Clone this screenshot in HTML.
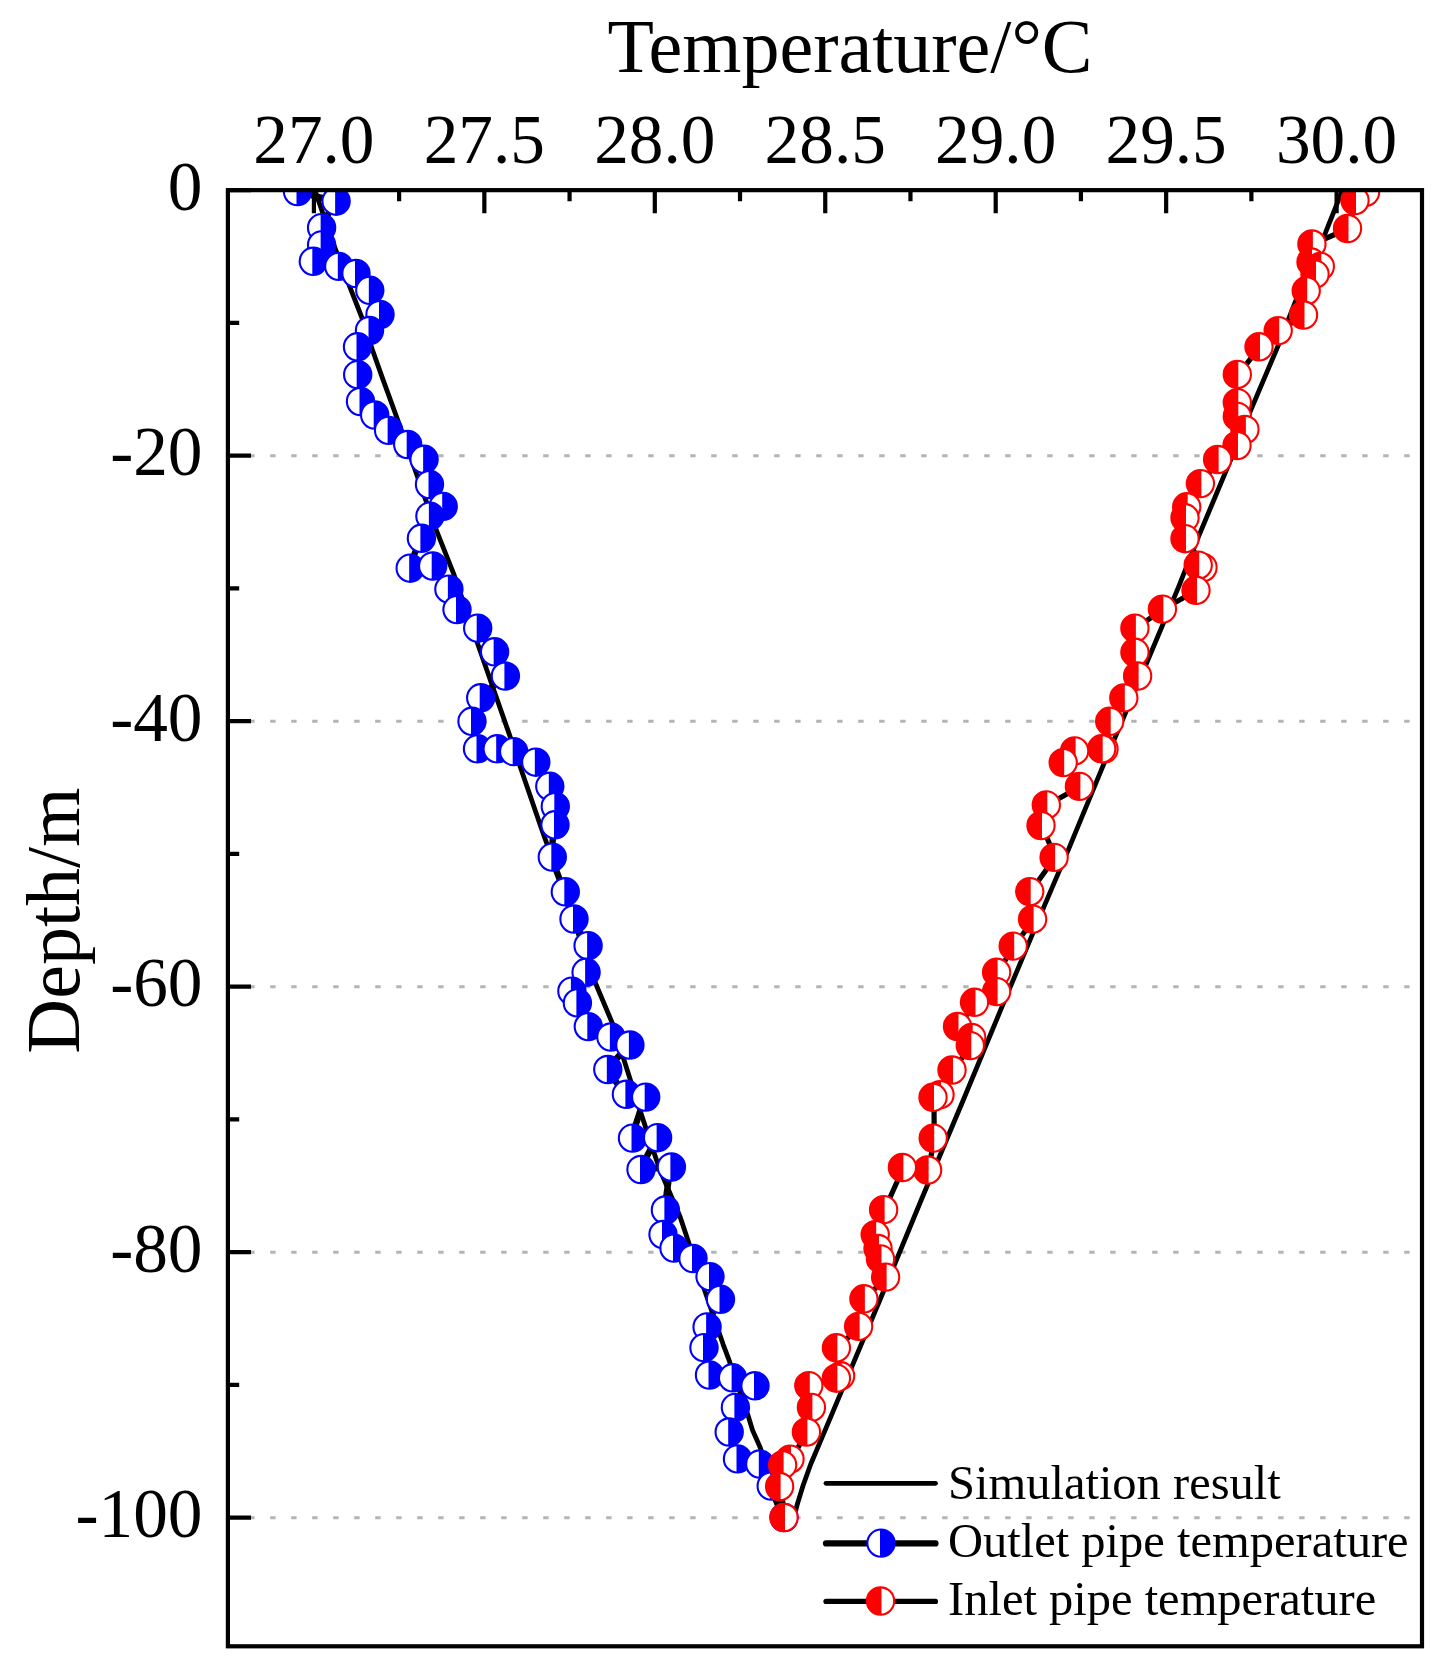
<!DOCTYPE html>
<html><head><meta charset="utf-8"><title>Temperature vs Depth</title>
<style>html,body{margin:0;padding:0;background:#fff;}svg{display:block;}text{font-family:"Liberation Serif",serif;fill:#000;}</style>
</head><body>
<svg width="1452" height="1678" viewBox="0 0 1452 1678">
<rect width="1452" height="1678" fill="#fff"/>
<defs>
<clipPath id="pc"><rect x="227.9" y="190.15" width="1194.1" height="1456.15"/></clipPath>
<g id="mb"><circle r="13.65" fill="#fff"/><path d="M-1,-13.61 A13.65,13.65 0 1 1 -1,13.61 Z" fill="#0000ff"/><circle r="13.65" fill="none" stroke="#0000ff" stroke-width="2.1"/></g>
<g id="mr"><circle r="13.65" fill="#fff"/><path d="M1,-13.61 A13.65,13.65 0 1 0 1,13.61 Z" fill="#ff0000"/><circle r="13.65" fill="none" stroke="#ff0000" stroke-width="2.1"/></g>
</defs>
<line x1="228.2" y1="455.65" x2="1420" y2="455.65" stroke="#b4b4b4" stroke-width="3" stroke-dasharray="5.4 15.6"/>
<line x1="228.2" y1="721.15" x2="1420" y2="721.15" stroke="#b4b4b4" stroke-width="3" stroke-dasharray="5.4 15.6"/>
<line x1="228.2" y1="986.65" x2="1420" y2="986.65" stroke="#b4b4b4" stroke-width="3" stroke-dasharray="5.4 15.6"/>
<line x1="228.2" y1="1252.15" x2="1420" y2="1252.15" stroke="#b4b4b4" stroke-width="3" stroke-dasharray="5.4 15.6"/>
<line x1="228.2" y1="1517.65" x2="1420" y2="1517.65" stroke="#b4b4b4" stroke-width="3" stroke-dasharray="5.4 15.6"/>
<g clip-path="url(#pc)">
<polyline points="315.4,191.8 333.6,244.4 350.8,289.4 362.6,319.5 372.3,349.5 383,379.6 400.2,426.8 417.3,476.1 436.5,530.7 453.6,573.6 479.4,648.8 494.4,691.7 509.4,734.6 520.2,766.8 541.6,829 556.5,870.7 595.1,982.3 612.3,1023.1 640.2,1111.1 659.5,1169 680,1216.5 703.6,1287.3 723.1,1344.3 728.4,1358.3 748.3,1416.2 752.5,1430.1 760.1,1447.3 771.5,1480 780,1503 784.5,1511 795.5,1511 797.5,1503.6 803,1485.8 810.7,1464.3 830,1418.6 879.8,1300.3 921.2,1200 963.3,1100 1001.1,1008.9 1045.3,903.6 1068.5,849.4 1102.5,767.1 1147,662.2 1178.5,587.1 1198.7,536.2 1231,459 1251,409.6 1278.3,345.2 1295.7,301 1325.5,232.7 1342.5,190.15" fill="none" stroke="#000" stroke-width="4.8" stroke-linejoin="round" stroke-linecap="round"/>
<polyline points="296.5,191.5 335.1,201.2 320.6,227.7 320.6,244.9 312.3,261.3 337.8,266.4 355,273.5 368.8,290.3 379,314.5 368.5,330.5 356.5,346.8 356.7,374.7 359.5,401.5 373.7,415 387.6,430.4 406.7,444.5 423.1,459.3 428.5,484.5 442.2,506.4 428.9,516.1 420.4,538.3 409.2,568.2 431.7,566 447.9,589.2 456,609.6 476.7,628.2 493.6,651.8 504.4,676 479.7,697.8 471,721.3 476.5,748.8 496.2,748.8 512.7,751.6 534.8,762.2 548.8,786.3 554.3,806.5 554,824.8 551.3,857.1 564.3,891.8 573,919 587.1,945.7 585.1,972.3 570.9,991.2 576.4,1002.9 587.3,1026.6 609.9,1037 628.9,1045 606.8,1069.5 625.4,1094.3 644.7,1097.1 631.5,1138.1 656.6,1137.7 640,1169.5 670.4,1167 664.4,1210 662,1234.5 673,1248.1 692,1258.5 709,1276.6 719.5,1299.3 706.1,1326.9 703,1347.7 708.5,1375 731.6,1377.8 754,1385.8 734.4,1407.4 728.2,1432 736.5,1458.9 758.8,1464 770.2,1486 783,1517.5" fill="none" stroke="#000" stroke-width="6.4" stroke-linejoin="round"/>
<use href="#mb" x="297.5" y="191.5"/>
<use href="#mb" x="336.1" y="201.2"/>
<use href="#mb" x="321.6" y="227.7"/>
<use href="#mb" x="321.6" y="244.9"/>
<use href="#mb" x="313.3" y="261.3"/>
<use href="#mb" x="338.8" y="266.4"/>
<use href="#mb" x="356" y="273.5"/>
<use href="#mb" x="369.8" y="290.3"/>
<use href="#mb" x="380" y="314.5"/>
<use href="#mb" x="369.5" y="330.5"/>
<use href="#mb" x="357.5" y="346.8"/>
<use href="#mb" x="357.7" y="374.7"/>
<use href="#mb" x="360.5" y="401.5"/>
<use href="#mb" x="374.7" y="415"/>
<use href="#mb" x="388.6" y="430.4"/>
<use href="#mb" x="407.7" y="444.5"/>
<use href="#mb" x="424.1" y="459.3"/>
<use href="#mb" x="429.5" y="484.5"/>
<use href="#mb" x="443.2" y="506.4"/>
<use href="#mb" x="429.9" y="516.1"/>
<use href="#mb" x="421.4" y="538.3"/>
<use href="#mb" x="410.2" y="568.2"/>
<use href="#mb" x="432.7" y="566"/>
<use href="#mb" x="448.9" y="589.2"/>
<use href="#mb" x="457" y="609.6"/>
<use href="#mb" x="477.7" y="628.2"/>
<use href="#mb" x="494.6" y="651.8"/>
<use href="#mb" x="505.4" y="676"/>
<use href="#mb" x="480.7" y="697.8"/>
<use href="#mb" x="472" y="721.3"/>
<use href="#mb" x="477.5" y="748.8"/>
<use href="#mb" x="497.2" y="748.8"/>
<use href="#mb" x="513.7" y="751.6"/>
<use href="#mb" x="535.8" y="762.2"/>
<use href="#mb" x="549.8" y="786.3"/>
<use href="#mb" x="555.3" y="806.5"/>
<use href="#mb" x="555" y="824.8"/>
<use href="#mb" x="552.3" y="857.1"/>
<use href="#mb" x="565.3" y="891.8"/>
<use href="#mb" x="574" y="919"/>
<use href="#mb" x="588.1" y="945.7"/>
<use href="#mb" x="586.1" y="972.3"/>
<use href="#mb" x="571.9" y="991.2"/>
<use href="#mb" x="577.4" y="1002.9"/>
<use href="#mb" x="588.3" y="1026.6"/>
<use href="#mb" x="610.9" y="1037"/>
<use href="#mb" x="629.9" y="1045"/>
<use href="#mb" x="607.8" y="1069.5"/>
<use href="#mb" x="626.4" y="1094.3"/>
<use href="#mb" x="645.7" y="1097.1"/>
<use href="#mb" x="632.5" y="1138.1"/>
<use href="#mb" x="657.6" y="1137.7"/>
<use href="#mb" x="641" y="1169.5"/>
<use href="#mb" x="671.4" y="1167"/>
<use href="#mb" x="665.4" y="1210"/>
<use href="#mb" x="663" y="1234.5"/>
<use href="#mb" x="674" y="1248.1"/>
<use href="#mb" x="693" y="1258.5"/>
<use href="#mb" x="710" y="1276.6"/>
<use href="#mb" x="720.5" y="1299.3"/>
<use href="#mb" x="707.1" y="1326.9"/>
<use href="#mb" x="704" y="1347.7"/>
<use href="#mb" x="709.5" y="1375"/>
<use href="#mb" x="732.6" y="1377.8"/>
<use href="#mb" x="755" y="1385.8"/>
<use href="#mb" x="735.4" y="1407.4"/>
<use href="#mb" x="729.2" y="1432"/>
<use href="#mb" x="737.5" y="1458.9"/>
<use href="#mb" x="759.8" y="1464"/>
<use href="#mb" x="771.2" y="1486"/>
<use href="#mb" x="784" y="1517.5"/>
<polyline points="1366.5,192.3 1356,200.5 1348.5,228.5 1312.9,244 1312,262 1321.3,266.4 1316,274.2 1307.2,290.8 1304.5,315 1279.2,330.6 1260,346.8 1238.3,374.4 1238.3,402.6 1238.3,416.4 1245.9,429.5 1238,445.5 1218.6,459.5 1201.4,483.6 1187.7,506.8 1186,517.8 1186,538.7 1204,567.5 1199.2,565.1 1197,590.3 1163.4,609.1 1135.9,628.2 1135.9,652.3 1138.6,676 1124.8,697.9 1110.7,721.3 1105,749 1102.7,748.8 1075.6,750.9 1064.2,762.6 1080.4,786.4 1047.3,804.9 1042,825.5 1055.1,857.4 1030.7,891.6 1033.6,919.2 1014.2,946.1 997.6,972.3 997.6,991.6 975.5,1002.3 958.5,1026.5 972.7,1037.5 971.3,1045.6 953,1070 941,1094.7 934,1097.3 934.2,1138.1 928.6,1170 903.4,1167.5 884.6,1209.7 876.2,1234.6 879,1248.5 881.5,1258.9 886.6,1277.1 864.9,1298.8 859.6,1326.4 837.4,1347.8 841.6,1375.8 837.4,1378.2 809.8,1385.6 812.4,1407.4 807.4,1432 791,1459.1 783.6,1464.9 780.6,1486.5 785,1517.5" fill="none" stroke="#000" stroke-width="5.2" stroke-linejoin="round"/>
<use href="#mr" x="1365.5" y="192.3"/>
<use href="#mr" x="1355" y="200.5"/>
<use href="#mr" x="1347.5" y="228.5"/>
<use href="#mr" x="1311.9" y="244"/>
<use href="#mr" x="1311" y="262"/>
<use href="#mr" x="1320.3" y="266.4"/>
<use href="#mr" x="1315" y="274.2"/>
<use href="#mr" x="1306.2" y="290.8"/>
<use href="#mr" x="1303.5" y="315"/>
<use href="#mr" x="1278.2" y="330.6"/>
<use href="#mr" x="1259" y="346.8"/>
<use href="#mr" x="1237.3" y="374.4"/>
<use href="#mr" x="1237.3" y="402.6"/>
<use href="#mr" x="1237.3" y="416.4"/>
<use href="#mr" x="1244.9" y="429.5"/>
<use href="#mr" x="1237" y="445.5"/>
<use href="#mr" x="1217.6" y="459.5"/>
<use href="#mr" x="1200.4" y="483.6"/>
<use href="#mr" x="1186.7" y="506.8"/>
<use href="#mr" x="1185" y="517.8"/>
<use href="#mr" x="1185" y="538.7"/>
<use href="#mr" x="1203" y="567.5"/>
<use href="#mr" x="1198.2" y="565.1"/>
<use href="#mr" x="1196" y="590.3"/>
<use href="#mr" x="1162.4" y="609.1"/>
<use href="#mr" x="1134.9" y="628.2"/>
<use href="#mr" x="1134.9" y="652.3"/>
<use href="#mr" x="1137.6" y="676"/>
<use href="#mr" x="1123.8" y="697.9"/>
<use href="#mr" x="1109.7" y="721.3"/>
<use href="#mr" x="1104" y="749"/>
<use href="#mr" x="1101.7" y="748.8"/>
<use href="#mr" x="1074.6" y="750.9"/>
<use href="#mr" x="1063.2" y="762.6"/>
<use href="#mr" x="1079.4" y="786.4"/>
<use href="#mr" x="1046.3" y="804.9"/>
<use href="#mr" x="1041" y="825.5"/>
<use href="#mr" x="1054.1" y="857.4"/>
<use href="#mr" x="1029.7" y="891.6"/>
<use href="#mr" x="1032.6" y="919.2"/>
<use href="#mr" x="1013.2" y="946.1"/>
<use href="#mr" x="996.6" y="972.3"/>
<use href="#mr" x="996.6" y="991.6"/>
<use href="#mr" x="974.5" y="1002.3"/>
<use href="#mr" x="957.5" y="1026.5"/>
<use href="#mr" x="971.7" y="1037.5"/>
<use href="#mr" x="970.3" y="1045.6"/>
<use href="#mr" x="952" y="1070"/>
<use href="#mr" x="940" y="1094.7"/>
<use href="#mr" x="933" y="1097.3"/>
<use href="#mr" x="933.2" y="1138.1"/>
<use href="#mr" x="927.6" y="1170"/>
<use href="#mr" x="902.4" y="1167.5"/>
<use href="#mr" x="883.6" y="1209.7"/>
<use href="#mr" x="875.2" y="1234.6"/>
<use href="#mr" x="878" y="1248.5"/>
<use href="#mr" x="880.5" y="1258.9"/>
<use href="#mr" x="885.6" y="1277.1"/>
<use href="#mr" x="863.9" y="1298.8"/>
<use href="#mr" x="858.6" y="1326.4"/>
<use href="#mr" x="836.4" y="1347.8"/>
<use href="#mr" x="840.6" y="1375.8"/>
<use href="#mr" x="836.4" y="1378.2"/>
<use href="#mr" x="808.8" y="1385.6"/>
<use href="#mr" x="811.4" y="1407.4"/>
<use href="#mr" x="806.4" y="1432"/>
<use href="#mr" x="790" y="1459.1"/>
<use href="#mr" x="782.6" y="1464.9"/>
<use href="#mr" x="779.6" y="1486.5"/>
<use href="#mr" x="784" y="1517.5"/>
</g>
<rect x="227.9" y="190.15" width="1194.1" height="1456.15" fill="none" stroke="#000" stroke-width="4.2"/>
<path d="M313.9,190.15V213.3M484.35,190.15V213.3M654.8,190.15V213.3M825.25,190.15V213.3M995.7,190.15V213.3M1166.15,190.15V213.3M1336.6,190.15V213.3M399.12,190.15V201.2M569.57,190.15V201.2M740.02,190.15V201.2M910.47,190.15V201.2M1080.92,190.15V201.2M1251.38,190.15V201.2M227.9,190.15H251M227.9,455.65H251M227.9,721.15H251M227.9,986.65H251M227.9,1252.15H251M227.9,1517.65H251M227.9,322.9H239.2M227.9,588.4H239.2M227.9,853.9H239.2M227.9,1119.4H239.2M227.9,1384.9H239.2" stroke="#000" stroke-width="4.2" fill="none"/>
<text x="313.9" y="163" font-size="69.3" text-anchor="middle">27.0</text>
<text x="484.35" y="163" font-size="69.3" text-anchor="middle">27.5</text>
<text x="654.8" y="163" font-size="69.3" text-anchor="middle">28.0</text>
<text x="825.25" y="163" font-size="69.3" text-anchor="middle">28.5</text>
<text x="995.7" y="163" font-size="69.3" text-anchor="middle">29.0</text>
<text x="1166.15" y="163" font-size="69.3" text-anchor="middle">29.5</text>
<text x="1336.6" y="163" font-size="69.3" text-anchor="middle">30.0</text>
<text x="202.5" y="209.95" font-size="69.3" text-anchor="end">0</text>
<text x="202.5" y="475.45" font-size="69.3" text-anchor="end">-20</text>
<text x="202.5" y="740.95" font-size="69.3" text-anchor="end">-40</text>
<text x="202.5" y="1006.45" font-size="69.3" text-anchor="end">-60</text>
<text x="202.5" y="1271.95" font-size="69.3" text-anchor="end">-80</text>
<text x="202.5" y="1537.45" font-size="69.3" text-anchor="end">-100</text>
<text x="850" y="71.5" font-size="76" text-anchor="middle">Temperature/°C</text>
<text transform="translate(78.7,920.7) rotate(-90)" font-size="76" text-anchor="middle">Depth/m</text>
<path d="M826,1483.3H935.5" stroke="#000" stroke-width="4.8" stroke-linecap="round"/>
<path d="M826,1543.4H935.5" stroke="#000" stroke-width="6.2" stroke-linecap="round"/>
<path d="M826,1601.4H935.5" stroke="#000" stroke-width="5.2" stroke-linecap="round"/>
<use href="#mb" x="881" y="1543.1"/>
<use href="#mr" x="880.5" y="1601"/>
<text x="948" y="1498.9" font-size="48.5">Simulation result</text>
<text x="948" y="1556.9" font-size="48.5">Outlet pipe temperature</text>
<text x="948" y="1615.3" font-size="48.5">Inlet pipe temperature</text>
</svg>
</body></html>
